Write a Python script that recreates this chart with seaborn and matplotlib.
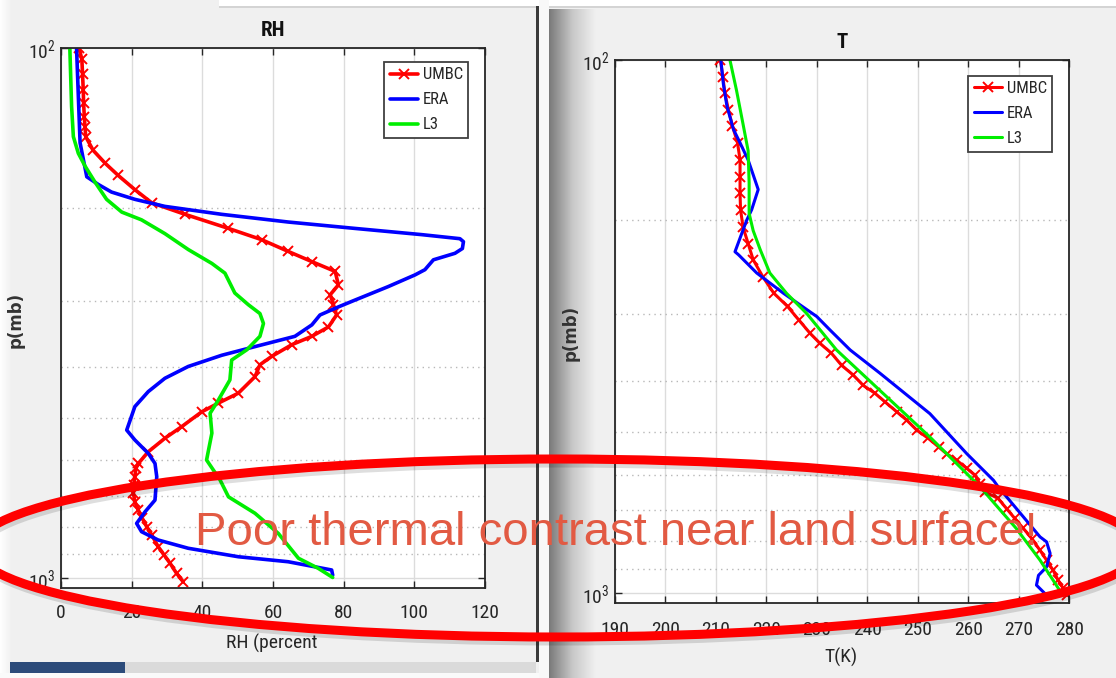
import numpy as np
import pandas as pd
import matplotlib
matplotlib.use("Agg")
import matplotlib.pyplot as plt
import seaborn as sns
from matplotlib import font_manager
from matplotlib.font_manager import FontProperties
from matplotlib.patches import Ellipse, Rectangle
from matplotlib.ticker import FixedLocator, NullFormatter
from matplotlib.colors import LinearSegmentedColormap

# ---------------- data ----------------
series_names = ["UMBC", "ERA", "L3"]

rh_umbc = [5.1, 5.9, 6.1, 6.3, 6.4, 6.6, 6.8, 7.0, 9.1, 12.5, 16.2, 20.9, 25.7, 35.1,
           47.4, 56.8, 64.3, 71.0, 77.6, 78.5, 76.2, 77.1, 78.0, 75.7, 71.0, 65.3,
           59.6, 56.3, 54.9, 50.2, 44.5, 39.8, 34.2, 29.4, 24.7, 21.9, 21.2, 20.9,
           20.6, 20.5, 20.9, 21.9, 23.0, 24.3, 25.7, 27.5, 29.2, 30.9, 32.7, 34.6]
p_rh_umbc = [100, 105, 112, 120, 127, 135, 141, 147, 156, 165, 174, 185, 196, 206,
             219, 230, 242, 253, 264, 280, 292, 305, 319, 336, 350, 363,
             382, 396, 417, 448, 468, 486, 518, 545, 578, 608, 621, 644,
             667, 692, 718, 745, 772, 801, 830, 873, 905, 939, 980, 1017]

rh_era = [4.4, 5.4, 7.3, 10.6, 14.3, 20.9, 29.4, 45.5, 64.3, 83.2, 102.1, 112.9, 113.9,
          113.6, 111.5, 105.4, 103.0, 100.2, 92.6, 83.2, 78.5, 73.3, 71.0, 66.2, 54.9,
          45.5, 36.0, 29.4, 24.7, 20.9, 18.6, 20.9, 24.7, 26.6, 27.1, 26.6, 23.8, 21.4,
          22.8, 27.5, 36.0, 50.2, 64.3, 76.6, 76.9]
p_rh_era = [100, 151, 175, 181, 187, 193, 199, 206, 213, 219, 225, 229, 232,
            239, 244, 251, 262, 268, 282, 299, 308, 319, 333, 350, 366,
            380, 399, 420, 445, 475, 526, 549, 582, 608, 644, 713, 750, 789,
            818, 848, 879, 912, 932, 966, 988]

rh_l3 = [2.5, 3.0, 3.5, 4.9, 6.8, 9.6, 12.9, 17.2, 22.8, 29.4, 36.0, 42.7, 46.4, 49.2,
         53.0, 56.3, 57.3, 56.3, 52.6, 48.3, 47.8, 44.5, 42.2, 42.7, 41.2, 45.0, 47.4,
         54.9, 61.5, 67.2, 72.8, 76.9]
p_rh_l3 = [100, 129, 147, 158, 167, 179, 193, 204, 211, 224, 240, 255, 266, 290,
           305, 317, 331, 350, 371, 388, 423, 462, 489, 533, 599, 653, 703,
           755, 824, 918, 959, 998]

t_umbc = [210.9, 211.4, 211.8, 212.5, 213.3, 214.3, 214.8, 214.8, 214.8, 214.9, 215.4,
          216.4, 217.4, 219.3, 221.5, 224.2, 226.5, 228.7, 230.6, 232.9, 234.9, 237.2,
          239.2, 241.5, 243.5, 245.8, 247.8, 249.8, 252.1, 254.1, 255.7, 257.7, 259.7,
          261.3, 262.3, 263.3, 265.9, 267.6, 269.2, 270.9, 272.6, 274.2, 275.5, 276.8,
          277.8, 278.8, 279.5]
p_t_umbc = [100, 107.5, 115.5, 124, 133, 143, 154, 166, 178, 191, 206,
            221, 237, 255, 274, 290, 308, 326, 340, 355, 374, 390,
            408, 422, 438, 457, 474, 495, 513, 532, 548, 564, 584,
            601, 624, 646, 665, 695, 725, 757, 791, 832, 868, 907,
            947, 981, 1010]

t_era = [211.0, 211.5, 212.2, 213.5, 214.8, 216.4, 218.4, 217.1, 216.1, 213.8, 214.5,
         218.1, 223.4, 230.0, 232.6, 236.6, 242.5, 252.4, 259.7, 265.0, 265.9, 270.9,
         274.2, 275.5, 276.2, 275.5, 273.9, 273.5, 275.5]
p_t_era = [100, 111, 122, 135, 143, 154, 175, 191, 200, 229, 232,
           251, 274, 303, 321, 350, 387, 461, 548, 615, 632, 720,
           785, 802, 843, 894, 927, 967, 1010]

t_l3 = [212.8, 214.1, 215.4, 216.4, 216.6, 216.6, 217.4, 218.8, 220.7, 224.0, 228.0,
        233.9, 242.5, 252.4, 262.3, 269.5, 274.2, 276.8, 278.5]
p_t_l3 = [100, 114, 132, 148, 170, 194, 209, 227, 251, 274, 299,
          350, 417, 510, 632, 757, 868, 947, 1003]

rh_ticks = [0, 20, 40, 60, 80, 100, 120]
t_ticks = [190, 200, 210, 220, 230, 240, 250, 260, 270, 280]
p_major = [100, 1000]
p_major_labels = ["$10^2$", "$10^3$"]
p_minor = [200, 300, 400, 500, 600, 700, 800, 900]


# ---------------- fonts ----------------
def first_font(cands):
    for c in cands:
        try:
            font_manager.findfont(FontProperties(family=c), fallback_to_default=False)
            return c
        except Exception:
            continue
    return "DejaVu Sans"


NARROW = first_font(["Liberation Sans Narrow", "Arial Narrow", "Roboto Condensed",
                     "IBM Plex Sans Condensed", "Open Sans Condensed", "DejaVu Sans"])
ARIAL = first_font(["Liberation Sans", "Arimo", "Roboto", "DejaVu Sans"])

sns.set_style("ticks")
plt.rcParams["font.family"] = [NARROW, "DejaVu Sans"]
plt.rcParams["mathtext.fontset"] = "custom"
plt.rcParams["mathtext.rm"] = NARROW
plt.rcParams["mathtext.it"] = NARROW
plt.rcParams["mathtext.bf"] = NARROW

W, H = 1116, 678
fig = plt.figure(figsize=(W / 100, H / 100), dpi=100)
fig.patch.set_facecolor("#f0f0f0")

# ---------------- window chrome (background) ----------------
bg = fig.add_axes([0, 0, 1, 1], zorder=-5)
g = np.linspace(0, 1, 64)[None, :]
bg.imshow(g, extent=(0, 12, H, 0), aspect="auto", interpolation="bilinear",
          cmap=LinearSegmentedColormap.from_list("l", ["#ffffff", "#f0f0f0"]))
bg.add_patch(Rectangle((219, 0), W - 219, 6, color="white", lw=0))
bg.add_patch(Rectangle((219, 6), W - 219, 1.5, color="#d4d4d4", lw=0))
bg.add_patch(Rectangle((539, 0), 10, H, color="#f8f8f8", lw=0))
bg.add_patch(Rectangle((536, 6), 3, 656, color="#3a3a3a", lw=0))
bg.imshow(g, extent=(549, 596, H, 9), aspect="auto", interpolation="bilinear",
          cmap=LinearSegmentedColormap.from_list("s", ["#7a7a7a", "#c8c8c8", "#f0f0f0"]))
bg.add_patch(Rectangle((10, 662), 115, 11, color="#2c4b7a", lw=0))
bg.add_patch(Rectangle((125, 662), 411, 11, color="#dadada", lw=0))
bg.add_patch(Rectangle((0, 673), 539, 5, color="#fafafa", lw=0))
bg.set_xlim(0, W)
bg.set_ylim(H, 0)
bg.axis("off")

# ---------------- plot axes ----------------
YBOT = 1046
ax1 = fig.add_axes([61 / W, 1 - 588.3 / H, 424 / W, 540.3 / H])
ax2 = fig.add_axes([614.8 / W, 1 - 603.3 / H, 454.5 / W, 543.3 / H])

df_rh = {
    "UMBC": pd.DataFrame({"x": rh_umbc, "p": p_rh_umbc}),
    "ERA": pd.DataFrame({"x": rh_era, "p": p_rh_era}),
    "L3": pd.DataFrame({"x": rh_l3, "p": p_rh_l3}),
}
df_t = {
    "UMBC": pd.DataFrame({"x": t_umbc, "p": p_t_umbc}),
    "ERA": pd.DataFrame({"x": t_era, "p": p_t_era}),
    "L3": pd.DataFrame({"x": t_l3, "p": p_t_l3}),
}
colors = {"UMBC": "#ff0000", "ERA": "#0000ff", "L3": "#00ee00"}


def draw(ax, frames, lw):
    for name in series_names:
        d = frames[name]
        kw = {}
        if name == "UMBC":
            kw = dict(marker="x", markersize=7, markeredgewidth=1.4,
                      markeredgecolor=colors[name], markerfacecolor=colors[name])
        sns.lineplot(data=d, x="x", y="p", ax=ax, sort=False, estimator=None,
                     color=colors[name], lw=lw, ls="-", label=name, **kw)


def style(ax, xlim, xticks, pad_x):
    ax.set_facecolor("white")
    ax.set_yscale("log")
    ax.set_ylim(YBOT, 100)
    ax.set_xlim(*xlim)
    ax.set_xticks(xticks)
    ax.yaxis.set_major_locator(FixedLocator(p_major))
    ax.set_yticklabels(p_major_labels)
    ax.yaxis.set_minor_locator(FixedLocator(p_minor))
    ax.yaxis.set_minor_formatter(NullFormatter())
    ax.set_axisbelow(True)
    ax.grid(True, which="major", axis="both", color="#dcdcdc", lw=1.0, ls="-")
    ax.grid(True, which="minor", axis="y", color="#b8b8b8", lw=1.0, ls=(0, (1, 3)))
    ax.tick_params(which="both", direction="in", top=True, right=True,
                   colors="#262626", labelsize=14)
    ax.tick_params(which="major", length=5, width=1.0)
    ax.tick_params(which="minor", length=0)
    ax.tick_params(axis="x", pad=pad_x)
    ax.tick_params(axis="y", pad=4)
    for s in ax.spines.values():
        s.set_visible(True)
        s.set_color("#262626")
        s.set_linewidth(1.3)


draw(ax1, df_rh, 2.6)
draw(ax2, df_t, 2.2)
style(ax1, (0, 120), rh_ticks, 11)
style(ax2, (190, 280), t_ticks, 12.5)

ax1.set_title("RH", fontsize=15, fontweight="bold", pad=9, color="#111111")
ax2.set_title("T", fontsize=15, fontweight="bold", pad=9, color="#111111")

ax1.set_xlabel("RH (percent", fontsize=14, color="#262626")
ax2.set_xlabel("T(K)", fontsize=14, color="#262626")
ax1.xaxis.set_label_coords((272 - 61) / 424, 1 - (634 - 48) / 540.3)
ax2.xaxis.set_label_coords((841 - 614.8) / 454.5, 1 - (648 - 60) / 543.3)

for ax in (ax1, ax2):
    ax.set_ylabel("p(mb)", fontsize=12, fontweight="bold", color="#333333",
                  family=["DejaVu Sans"])
# label anchor = right edge of the rotated text on screen
ax1.yaxis.set_label_coords((25 - 61) / 424, 1 - (320 - 48) / 540.3)
ax2.yaxis.set_label_coords((580 - 614.8) / 454.5, 1 - (333 - 60) / 543.3)

for ax, anchor in ((ax1, (0.96, 0.974)), (ax2, (0.962, 0.9706))):
    leg = ax.legend(loc="upper right", bbox_to_anchor=anchor, borderaxespad=0,
                    frameon=True, fancybox=False, framealpha=1, edgecolor="#404040",
                    fontsize=12, handlelength=1.68, handletextpad=0.3,
                    labelspacing=0.6, borderpad=0.32)
    leg.get_frame().set_linewidth(1.3)
    for t in leg.get_texts():
        t.set_color("#262626")

# ---------------- annotation overlay ----------------
ov = fig.add_axes([0, 0, 1, 1], zorder=10)
ov.set_xlim(0, W)
ov.set_ylim(H, 0)
ov.axis("off")
ov.patch.set_alpha(0)
ov.add_patch(Ellipse((560, 552), 1166, 178, fill=False, ec="black", lw=6.5, alpha=0.13))
ov.add_patch(Ellipse((558, 548), 1166, 178, fill=False, ec="#ff0000", lw=6.5))
ov.text(195, 545, "Poor thermal contrast near land surface!", color="#e25a43",
        fontsize=34, family=[ARIAL, "DejaVu Sans"], ha="left", va="baseline")

fig.savefig("out.png", dpi=100, facecolor=fig.get_facecolor())
